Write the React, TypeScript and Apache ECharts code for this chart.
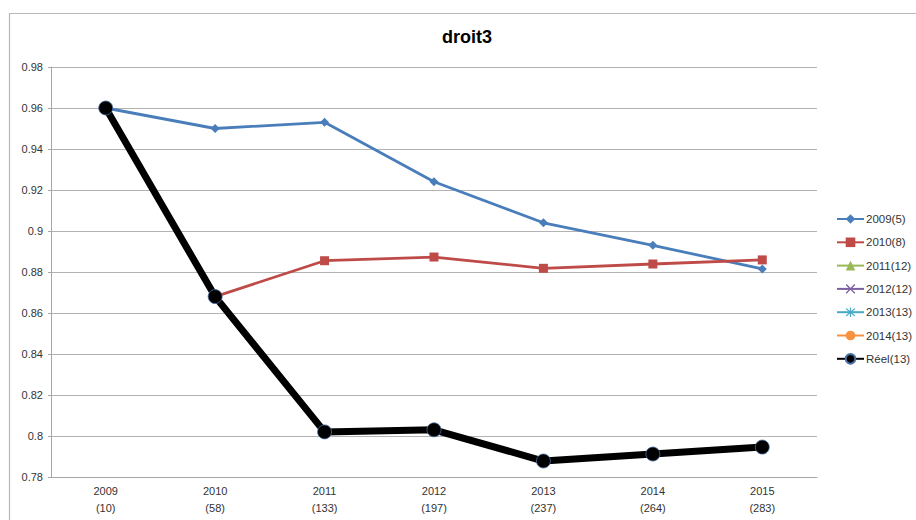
import React, { useEffect, useRef } from "react";
import * as echarts from "echarts";

const categories = ["2009\n(10)", "2010\n(58)", "2011\n(133)", "2012\n(197)", "2013\n(237)", "2014\n(264)", "2015\n(283)"];
const s2009 = [0.96, 0.950, 0.953, 0.924, 0.904, 0.893, 0.8815];
const s2010 = [null, 0.868, 0.8855, 0.8873, 0.8818, 0.8839, 0.8859];
const s2011: (number | null)[] = [];
const s2012: (number | null)[] = [];
const s2013: (number | null)[] = [];
const s2014: (number | null)[] = [];
const reel = [0.96, 0.868, 0.802, 0.803, 0.7878, 0.7912, 0.7946];
const yTicks = { min: 0.78, max: 0.98, interval: 0.02 };

const XSYM = "path://M0,1L1,0L5,4L9,0L10,1L6,5L10,9L9,10L5,6L1,10L0,9L4,5Z";
const STARSYM = "path://M0,1L1,0L5,4L9,0L10,1L6,5L10,9L9,10L5,6L1,10L0,9L4,5Z M4.4,-1L5.6,-1L5.6,11L4.4,11Z";

export default function App() {
  const ref = useRef<HTMLDivElement>(null);
  useEffect(() => {
    document.body.style.margin = "0";
    const chart = echarts.init(ref.current!, null, { renderer: "svg" });
    const font = "'Liberation Sans', Arial, sans-serif";
    chart.setOption({
      animation: false,
      textStyle: { fontFamily: font },
      graphic: [
        {
          type: "rect",
          shape: { x: 9.5, y: 13.5, width: 920, height: 520 },
          style: { fill: "none", stroke: "#b8b8b8", lineWidth: 1.2 },
          silent: true,
        },
        {
          type: "text",
          x: 467,
          y: 28,
          style: { text: "droit3", fill: "#000", font: `bold 18px ${font}`, textAlign: "center" },
        },
      ],
      grid: { left: 51, right: 99, top: 67, bottom: 43, containLabel: false },
      legend: {
        orient: "vertical",
        left: 836,
        top: 213,
        itemWidth: 27,
        itemHeight: 12,
        itemGap: 11.3,
        padding: 0,
        textStyle: { fontSize: 11.5, color: "#333", fontFamily: font, padding: [0, 0, 0, -3] },
        data: ["2009(5)", "2010(8)", "2011(12)", "2012(12)", "2013(13)", "2014(13)", "Réel(13)"],
      },
      xAxis: {
        type: "category",
        data: categories,
        boundaryGap: true,
        axisLine: { lineStyle: { color: "#a6a6a6", width: 1 } },
        axisTick: { show: false },
        axisLabel: { color: "#333", fontSize: 11, lineHeight: 17, margin: 5, fontFamily: font },
      },
      yAxis: {
        type: "value",
        min: yTicks.min,
        max: yTicks.max,
        interval: yTicks.interval,
        axisLine: { show: true, lineStyle: { color: "#a6a6a6", width: 1 } },
        axisTick: { show: true, length: 3, lineStyle: { color: "#a6a6a6" } },
        axisLabel: { color: "#333", fontSize: 11, margin: 8, fontFamily: font, formatter: (v: number) => String(Math.round(v * 100) / 100) },
        splitLine: { lineStyle: { color: "#b3b3b3", width: 1 } },
      },
      series: [
        {
          name: "2009(5)", type: "line", data: s2009, symbol: "diamond", symbolSize: 9,
          lineStyle: { color: "#4A7EBB", width: 2.8 }, itemStyle: { color: "#4A7EBB" },
        },
        {
          name: "2010(8)", type: "line", data: s2010, symbol: "rect", symbolSize: 9,
          lineStyle: { color: "#BE4B48", width: 2.8 }, itemStyle: { color: "#BE4B48" },
        },
        {
          name: "2011(12)", type: "line", data: s2011, symbol: "triangle", symbolSize: 9,
          lineStyle: { color: "#98B954", width: 2.8 }, itemStyle: { color: "#98B954" },
        },
        {
          name: "2012(12)", type: "line", data: s2012, symbol: XSYM, symbolSize: 9,
          lineStyle: { color: "#7D60A0", width: 2.8 }, itemStyle: { color: "#7D60A0" },
        },
        {
          name: "2013(13)", type: "line", data: s2013, symbol: STARSYM, symbolSize: 9,
          lineStyle: { color: "#46AAC5", width: 2.8 }, itemStyle: { color: "#46AAC5" },
        },
        {
          name: "2014(13)", type: "line", data: s2014, symbol: "circle", symbolSize: 9,
          lineStyle: { color: "#F69240", width: 2.8 }, itemStyle: { color: "#F69240" },
        },
        {
          name: "Réel(13)", type: "line", data: reel, symbol: "circle", symbolSize: 14, z: 3,
          lineStyle: { color: "#000", width: 7 },
          itemStyle: { color: "#000", borderColor: "#4A6FA5", borderWidth: 0.8 },
        },
      ],
    });
    return () => chart.dispose();
  }, []);
  return <div ref={ref} style={{ width: 916, height: 520 }} />;
}
